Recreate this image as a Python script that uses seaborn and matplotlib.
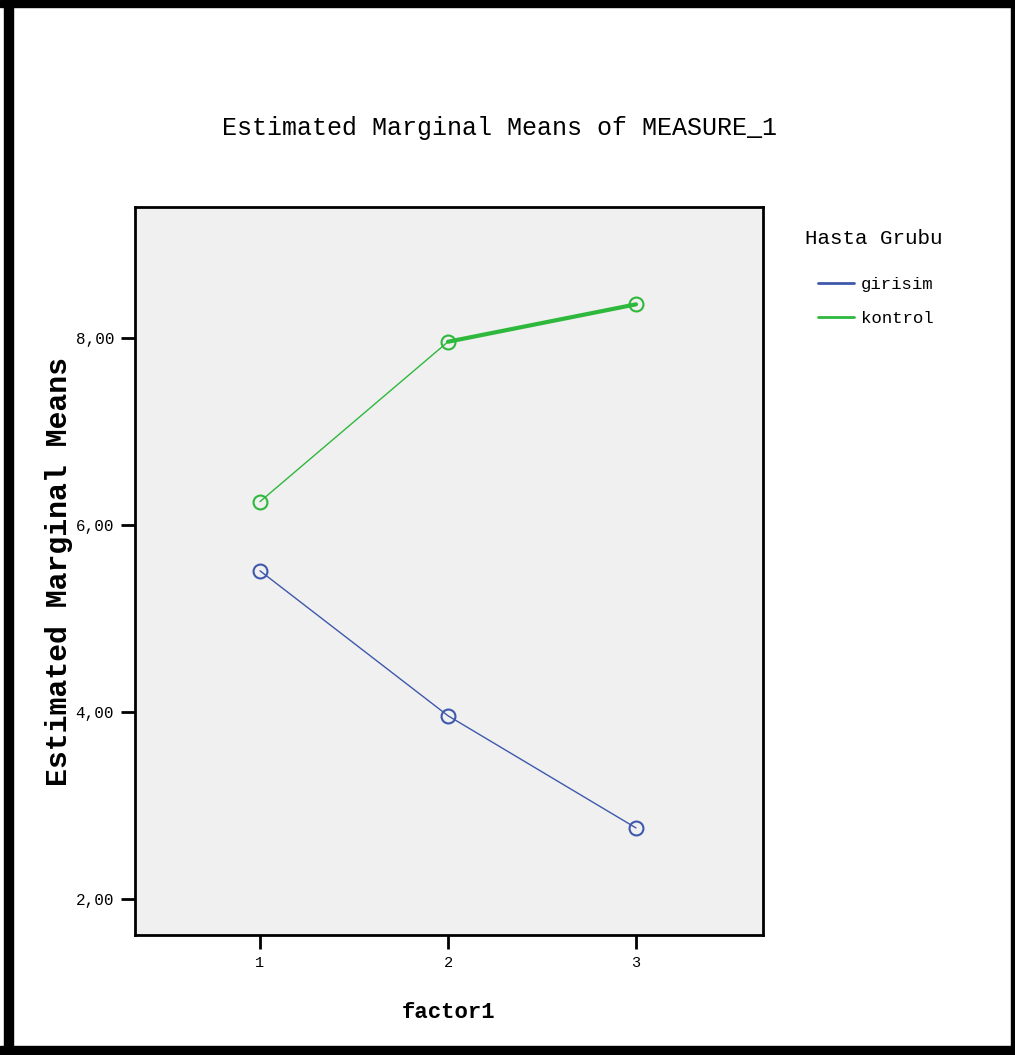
import matplotlib
matplotlib.use("Agg")
import matplotlib.pyplot as plt
import seaborn as sns
import pandas as pd
from matplotlib.lines import Line2D
from matplotlib.patches import Rectangle

# ---- data ----
factor_levels = [1, 2, 3]
girisim_means = [5.51, 3.96, 2.76]
kontrol_means = [6.25, 7.96, 8.36]
group_names = ["girisim", "kontrol"]
y_ticks = [2, 4, 6, 8]
y_tick_labels = ["2,00", "4,00", "6,00", "8,00"]
x_tick_labels = ["1", "2", "3"]

df = pd.DataFrame({
    "factor1": factor_levels * 2,
    "mean": girisim_means + kontrol_means,
    "Hasta Grubu": [group_names[0]] * 3 + [group_names[1]] * 3,
})

sns.set_theme(style="white")
plt.rcParams["font.family"] = ["Liberation Mono", "DejaVu Sans Mono"]
plt.rcParams["text.color"] = "black"
plt.rcParams["axes.labelcolor"] = "black"

BLUE = "#3E58AC"
GREEN = "#2EB83C"
palette = {"girisim": BLUE, "kontrol": GREEN}

fig = plt.figure(figsize=(10.15, 10.55), dpi=100)
fig.patch.set_facecolor("white")
ax = fig.add_axes([135 / 1015, 1 - 935 / 1055, (763 - 135) / 1015, (935 - 207) / 1055])
ax.set_facecolor("#F0F0F0")

sns.lineplot(data=df, x="factor1", y="mean", hue="Hasta Grubu", palette=palette,
             marker="o", markersize=10, linewidth=1.0, legend=False, ax=ax, errorbar=None)
# thicker segment of the kontrol line between levels 2 and 3 (as in the original)
sub = df[(df["Hasta Grubu"] == "kontrol") & (df["factor1"] >= 2)]
sns.lineplot(data=sub, x="factor1", y="mean", color=GREEN, linewidth=3.0,
             legend=False, ax=ax, errorbar=None)

for ln in ax.lines:
    ln.set_markerfacecolor("none")
    ln.set_markeredgecolor(ln.get_color())
    ln.set_markeredgewidth(1.5)

ax.set_xlim(1 - 125 / 188, 3 + 127 / 188)
ax.set_ylim(2 - 36 / 93.5, 8 + 131 / 93.5)
ax.set_xticks(factor_levels)
ax.set_xticklabels(x_tick_labels, fontsize=11)
ax.set_yticks(y_ticks)
ax.set_yticklabels(y_tick_labels, fontsize=11.5)
ax.tick_params(axis="both", which="major", direction="out", length=10, width=2,
               color="black", labelcolor="black", pad=5,
               bottom=True, left=True)
for s in ax.spines.values():
    s.set_visible(True)
    s.set_color("black")
    s.set_linewidth(2)

ax.set_xlabel("factor1", fontsize=16, fontweight="bold", labelpad=23)
ax.set_ylabel("Estimated Marginal Means", fontsize=21.5, fontweight="bold", labelpad=2)

fig.text(500 / 1015, 1 - 128 / 1055, "Estimated Marginal Means of MEASURE_1",
         ha="center", va="center", fontsize=18)

# legend
fig.text(805 / 1015, 1 - 238 / 1055, "Hasta Grubu", ha="left", va="center", fontsize=15)
handles = [Line2D([0], [0], color=BLUE, lw=2), Line2D([0], [0], color=GREEN, lw=2)]
fig.legend(handles, group_names, loc="upper left",
           bbox_to_anchor=(818 / 1015, 1 - 277 / 1055), frameon=False,
           fontsize=12.5, handlelength=2.1, handletextpad=0.35, labelspacing=1.1,
           borderpad=0, borderaxespad=0)

# outer black frame
W, H = 1015, 1055
for (x0, y0, w, h) in [(4, 0, 9, H), (0, 0, W, 7), (1011, 0, 4, H), (0, 1046, W, 9)]:
    fig.patches.append(Rectangle((x0 / W, 1 - (y0 + h) / H), w / W, h / H,
                                 transform=fig.transFigure, color="black", zorder=10))

fig.savefig("out.png", dpi=100)
